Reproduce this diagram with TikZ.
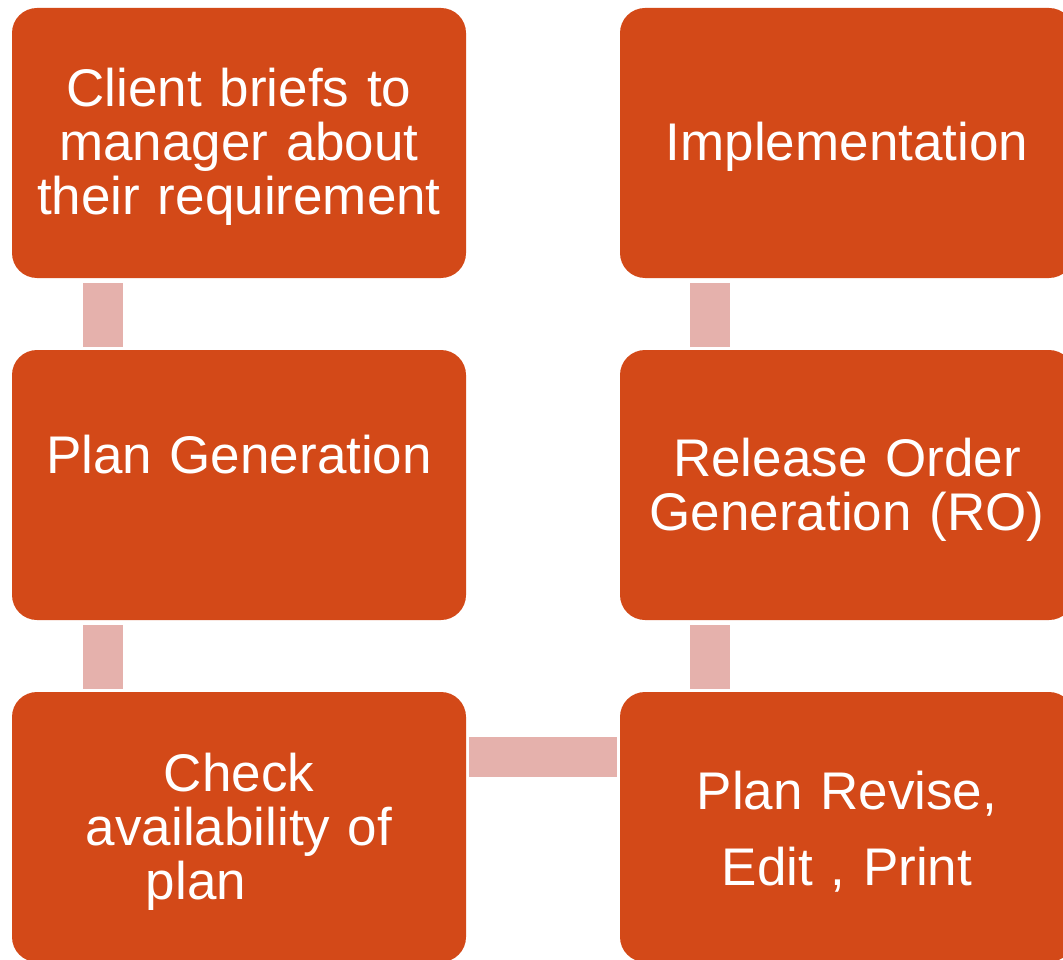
\documentclass[tikz,border=0pt]{standalone}
\usepackage{fontspec}
\setmainfont{Liberation Sans}
\usepackage{tikz}
\usepackage{xcolor}
\usetikzlibrary{positioning}
\definecolor{boxorange}{RGB}{211,73,24}
\definecolor{linkpink}{RGB}{229,177,172}
\tikzset{
    flow-box/.style = {fill=boxorange, rectangle, rounded corners=25pt, inner sep=0pt, outer sep=0pt, minimum width=454pt, minimum height=270pt, text width=450pt, align=center, text=white, font=\fontsize{53}{54}\selectfont, execute at begin node={\rule{0pt}{47pt}}},
    flow-link/.style = {draw=linkpink, line width=40pt, line cap=butt},
}

\begin{document}
\begin{tikzpicture}[x=1pt, y=1pt]
\useasboundingbox (0,0) rectangle (1063,-960);
\node [flow-box] (client) at (239,-143) {Client briefs to\\ manager about\\ their requirement};
\node [flow-box, below=72pt of client] (plangen) {Plan Generation\\ \strut};
\node [flow-box, below=72pt of plangen] (check) {Check\\ availability of\\ plan\hspace*{86pt}};
\node [flow-box, right=154pt of client] (impl) {Implementation};
\node [flow-box, below=72pt of impl] (release) {Release Order\\ Generation (RO)};
\node [flow-box, below=72pt of release] (revise) {Plan Revise,\\[22pt] Edit , Print};
\draw [flow-link] ([shift={(91pt,-5pt)}]client.south west) -- ([shift={(91pt,3pt)}]plangen.north west);
\draw [flow-link] ([shift={(91pt,-5pt)}]plangen.south west) -- ([shift={(91pt,3pt)}]check.north west);
\draw [flow-link] ([shift={(3pt,-65pt)}]check.north east) -- ([shift={(-3pt,-65pt)}]revise.north west);
\draw [flow-link] ([shift={(90pt,3pt)}]release.north west) -- ([shift={(90pt,-5pt)}]impl.south west);
\draw [flow-link] ([shift={(90pt,3pt)}]revise.north west) -- ([shift={(90pt,-5pt)}]release.south west);
\end{tikzpicture}
\end{document}
